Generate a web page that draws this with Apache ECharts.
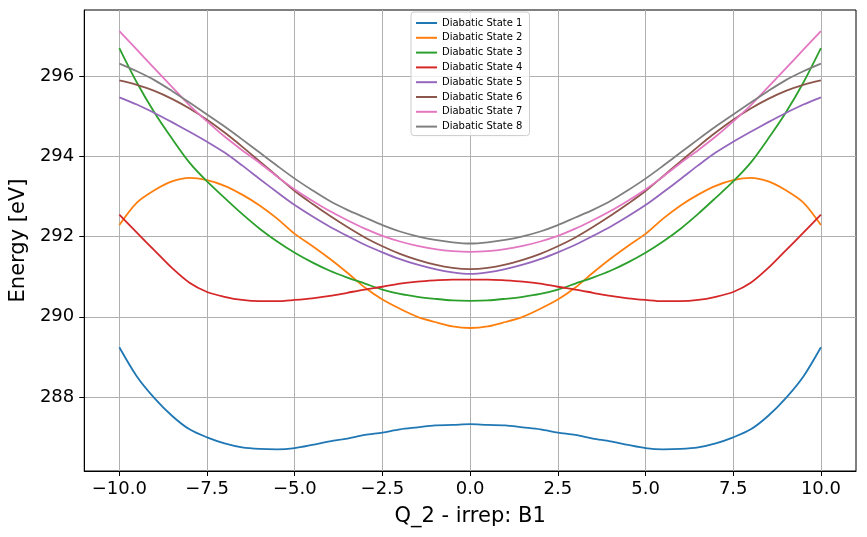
<!DOCTYPE html>
<html>
<head>
<meta charset="utf-8">
<script src="https://cdn.jsdelivr.net/npm/echarts@6/dist/echarts.min.js"></script>
<style>
  html, body { margin: 0; padding: 0; background: #fff; }
  #chart { width: 867px; height: 537px; }
</style>
</head>
<body>
<div id="chart"></div>
<script>
// displacement along Q_2, every 0.5
const qValues = [-10, -9.5, -9, -8.5, -8, -7.5, -7, -6.5, -6, -5.5, -5, -4.5, -4, -3.5, -3, -2.5, -2, -1.5, -1, -0.5,
  0, 0.5, 1, 1.5, 2, 2.5, 3, 3.5, 4, 4.5, 5, 5.5, 6, 6.5, 7, 7.5, 8, 8.5, 9, 9.5, 10];

// energies [eV]
const state1 = [289.24, 288.51, 287.97, 287.53, 287.19, 286.99, 286.84, 286.74, 286.70, 286.69, 286.72, 286.80, 286.89, 286.96, 287.05, 287.11, 287.19, 287.24, 287.29, 287.30,
  287.32, 287.30, 287.29, 287.24, 287.19, 287.11, 287.05, 286.96, 286.89, 286.80, 286.72, 286.69, 286.70, 286.74, 286.84, 286.99, 287.19, 287.53, 287.97, 288.51, 289.24];
const state2 = [292.29, 292.85, 293.16, 293.38, 293.47, 293.41, 293.27, 293.05, 292.78, 292.45, 292.07, 291.77, 291.45, 291.10, 290.73, 290.43, 290.20, 290.00, 289.87, 289.76,
  289.72, 289.76, 289.87, 290.00, 290.20, 290.43, 290.73, 291.10, 291.45, 291.77, 292.07, 292.45, 292.78, 293.05, 293.27, 293.41, 293.47, 293.38, 293.16, 292.85, 292.29];
const state3 = [296.71, 295.85, 295.10, 294.45, 293.85, 293.38, 292.97, 292.57, 292.20, 291.88, 291.60, 291.36, 291.15, 290.98, 290.83, 290.68, 290.57, 290.50, 290.45, 290.41,
  290.40, 290.41, 290.45, 290.50, 290.57, 290.68, 290.83, 290.98, 291.15, 291.36, 291.60, 291.88, 292.20, 292.57, 292.97, 293.38, 293.85, 294.45, 295.10, 295.85, 296.71];
const state4 = [292.55, 292.10, 291.66, 291.22, 290.85, 290.62, 290.50, 290.42, 290.39, 290.39, 290.42, 290.46, 290.52, 290.60, 290.68, 290.75, 290.83, 290.88, 290.91, 290.93,
  290.93, 290.93, 290.91, 290.88, 290.83, 290.75, 290.68, 290.60, 290.52, 290.46, 290.42, 290.39, 290.39, 290.42, 290.50, 290.62, 290.85, 291.22, 291.66, 292.10, 292.55];
const state5 = [295.48, 295.30, 295.09, 294.86, 294.62, 294.37, 294.10, 293.78, 293.44, 293.11, 292.79, 292.51, 292.25, 292.02, 291.80, 291.61, 291.44, 291.30, 291.19, 291.11,
  291.07, 291.11, 291.19, 291.30, 291.44, 291.61, 291.80, 292.02, 292.25, 292.51, 292.79, 293.11, 293.44, 293.78, 294.10, 294.37, 294.62, 294.86, 295.09, 295.30, 295.48];
const state6 = [295.90, 295.79, 295.64, 295.44, 295.20, 294.92, 294.60, 294.25, 293.88, 293.51, 293.14, 292.82, 292.52, 292.24, 291.98, 291.76, 291.57, 291.42, 291.30, 291.22,
  291.19, 291.22, 291.30, 291.42, 291.57, 291.76, 291.98, 292.24, 292.52, 292.82, 293.14, 293.51, 293.88, 294.25, 294.60, 294.92, 295.20, 295.44, 295.64, 295.79, 295.90];
const state7 = [297.13, 296.67, 296.20, 295.74, 295.28, 294.88, 294.50, 294.16, 293.84, 293.50, 293.18, 292.90, 292.64, 292.41, 292.20, 292.02, 291.88, 291.77, 291.69, 291.64,
  291.62, 291.64, 291.69, 291.77, 291.88, 292.02, 292.20, 292.41, 292.64, 292.90, 293.18, 293.50, 293.84, 294.16, 294.50, 294.88, 295.28, 295.74, 296.20, 296.67, 297.13];
const state8 = [296.32, 296.13, 295.91, 295.64, 295.35, 295.05, 294.75, 294.43, 294.10, 293.77, 293.45, 293.16, 292.89, 292.67, 292.48, 292.29, 292.13, 292.01, 291.92, 291.86,
  291.83, 291.86, 291.92, 292.01, 292.13, 292.29, 292.48, 292.67, 292.89, 293.16, 293.45, 293.77, 294.10, 294.43, 294.75, 295.05, 295.35, 295.64, 295.91, 296.13, 296.32];

const stateNames = ["Diabatic State 1", "Diabatic State 2", "Diabatic State 3", "Diabatic State 4",
  "Diabatic State 5", "Diabatic State 6", "Diabatic State 7", "Diabatic State 8"];
const stateValues = [state1, state2, state3, state4, state5, state6, state7, state8];

const xTicks = [-10, -7.5, -5, -2.5, 0, 2.5, 5, 7.5, 10];
const yTicks = [288, 290, 292, 294, 296];

const colors = ["#1f77b4", "#ff7f0e", "#2ca02c", "#d62728", "#9467bd", "#8c564b", "#e377c2", "#7f7f7f"];
const font = "DejaVu Sans";

const fmtX = (v) => (v < 0 ? "\u2212" : "") + Math.abs(v).toFixed(1);

const chart = echarts.init(document.getElementById("chart"), null, { renderer: "canvas" });

chart.setOption({
  animation: false,
  color: colors,
  textStyle: { fontFamily: font },
  grid: {
    left: 82,
    right: 11,
    top: 10,
    bottom: 66,
    show: true,
    borderColor: "#000",
    borderWidth: 1,
  },
  legend: {
    orient: "vertical",
    left: 411,
    top: 12,
    icon: "rect",
    itemWidth: 21,
    itemHeight: 2,
    itemGap: 4.8,
    padding: [6, 7, 4, 5],
    borderColor: "#cccccc",
    borderWidth: 1,
    borderRadius: 3,
    backgroundColor: "rgba(255,255,255,0.8)",
    textStyle: { fontFamily: font, fontSize: 10, lineHeight: 10, color: "#000" },
    data: stateNames,
  },
  xAxis: {
    type: "value",
    min: -11,
    max: 11,
    name: "Q_2 - irrep: B1",
    nameLocation: "middle",
    nameGap: 35,
    nameTextStyle: { fontFamily: font, fontSize: 21, color: "#000" },
    axisLine: { show: true, onZero: false, lineStyle: { color: "#000", width: 1 } },
    axisTick: { show: true, inside: false, length: 5, customValues: xTicks, lineStyle: { color: "#000", width: 1 } },
    axisLabel: { customValues: xTicks, formatter: fmtX, margin: 9, fontFamily: font, fontSize: 18, color: "#000" },
    splitLine: { show: true, lineStyle: { color: "#b0b0b0", width: 1 } },
  },
  yAxis: {
    type: "value",
    min: 286.15,
    max: 297.66,
    name: "Energy [eV]",
    nameLocation: "middle",
    nameGap: 53,
    nameTextStyle: { fontFamily: font, fontSize: 21, color: "#000" },
    axisLine: { show: true, onZero: false, lineStyle: { color: "#000", width: 1 } },
    axisTick: { show: true, inside: false, length: 5, customValues: yTicks, lineStyle: { color: "#000", width: 1 } },
    axisLabel: { customValues: yTicks, formatter: (v) => String(Math.round(v)), margin: 10, fontFamily: font, fontSize: 18, color: "#000" },
    splitLine: { show: true, lineStyle: { color: "#b0b0b0", width: 1 } },
  },
  series: stateNames.map((name, i) => ({
    name,
    type: "line",
    data: qValues.map((q, j) => [q, stateValues[i][j]]),
    smooth: 0.3,
    symbol: "none",
    lineStyle: { width: 1.8 },
  })),
});
</script>
</body>
</html>
